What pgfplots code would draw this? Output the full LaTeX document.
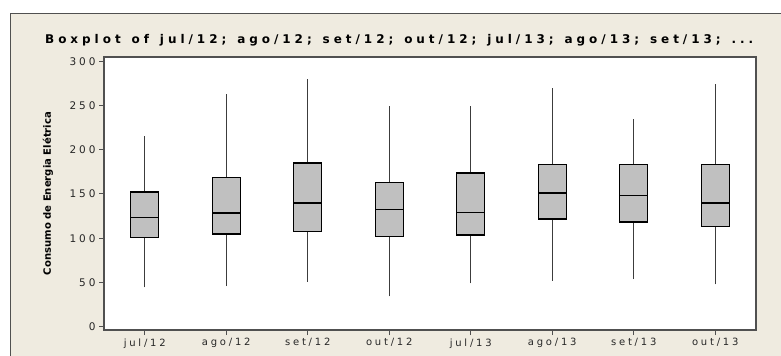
\documentclass[border=0pt]{standalone}
\usepackage{fontspec}
\setmainfont{DejaVu Sans}
\newfontfamily\tickfont[LetterSpace=28]{DejaVu Sans}
\usepackage{pgfplots}
\pgfplotsset{compat=1.18}
\definecolor{bgbeige}{RGB}{239,235,224}
\definecolor{boxgray}{RGB}{192,192,192}
\definecolor{framegray}{RGB}{80,80,80}
\definecolor{whiskgray}{RGB}{60,60,60}
\makeatletter
\newcommand\spreadword[1]{\@tfor\lschar:=#1\do{\lschar\hfill}}
\makeatother
\newcommand\wsp{\hspace{3bp}\hfill}
\begin{document}
\begin{tikzpicture}
\path[use as bounding box] (0bp,0bp) rectangle (781bp,356bp);
\fill[bgbeige] (10bp,-10bp) rectangle (800bp,343bp);
\draw[framegray, line width=1bp] (10.5bp,-10bp) -- (10.5bp,342.5bp) -- (800bp,342.5bp);
\node[font=\bfseries\fontsize{12bp}{14bp}\selectfont, anchor=base west, inner sep=0pt] at (45bp,312.7bp) {\makebox[708bp][l]{\spreadword{Boxplot}\wsp\spreadword{of}\wsp\spreadword{jul/12;}\wsp\spreadword{ago/12;}\wsp\spreadword{set/12;}\wsp\spreadword{out/12;}\wsp\spreadword{jul/13;}\wsp\spreadword{ago/13;}\wsp\spreadword{set/13;}\wsp\spreadword{...}\unskip}};
\begin{axis}[
  at={(104bp,26bp)}, anchor=south west,
  scale only axis, width=652bp, height=273bp,
  xmin=0.5, xmax=8.5, ymin=-3.7, ymax=304.8,
  axis background/.style={fill=white},
  axis line style={framegray, line width=1.3bp},
  tick style={framegray, line width=1bp},
  tick align=outside, major tick length=5bp,
  xtick={1,2,3,4,5,6,7,8},
  xticklabels={jul/12,ago/12,set/12,out/12,jul/13,ago/13,set/13,out/13},
  ytick={0,50,100,150,200,250,300},
  xtick pos=lower, ytick pos=left,
  /pgf/number format/assume math mode=true,
  tick label style={font=\tickfont\fontsize{10bp}{12bp}\selectfont, text=black!85},
  yticklabel style={font=\tickfont\fontsize{10.5bp}{12bp}\selectfont},
  ylabel={\resizebox{163bp}{!}{\bfseries Consumo de Energia Elétrica}},
  ylabel style={at={(axis description cs:-0.0859,0.5)}, anchor=center},
  whisk/.style={draw=whiskgray, line width=1.4bp, mark=none},
  bx/.style={draw=black, fill=boxgray, line width=1.3bp, mark=none},
  med/.style={draw=black, line width=1.3bp, mark=none},
]
% jul/12: 44.5, 101, 123.2, 152.3, 215.6
\addplot[whisk] coordinates {(1,44.5) (1,101)};
\addplot[whisk] coordinates {(1,152.3) (1,215.6)};
\addplot[bx] coordinates {(0.8285,101) (1.1715,101) (1.1715,152.3) (0.8285,152.3) (0.8285,101)} -- cycle;
\addplot[med] coordinates {(0.8285,123.2) (1.1715,123.2)};
% ago/12: 46, 104.8, 128.5, 168.9, 262.7
\addplot[whisk] coordinates {(2,46) (2,104.8)};
\addplot[whisk] coordinates {(2,168.9) (2,262.7)};
\addplot[bx] coordinates {(1.8285,104.8) (2.1715,104.8) (2.1715,168.9) (1.8285,168.9) (1.8285,104.8)} -- cycle;
\addplot[med] coordinates {(1.8285,128.5) (2.1715,128.5)};
% set/12: 50.9, 107.8, 139.8, 185, 280
\addplot[whisk] coordinates {(3,50.9) (3,107.8)};
\addplot[whisk] coordinates {(3,185) (3,280)};
\addplot[bx] coordinates {(2.8285,107.8) (3.1715,107.8) (3.1715,185) (2.8285,185) (2.8285,107.8)} -- cycle;
\addplot[med] coordinates {(2.8285,139.8) (3.1715,139.8)};
% out/12: 34.4, 102.2, 132.7, 163.2, 249.8
\addplot[whisk] coordinates {(4,34.4) (4,102.2)};
\addplot[whisk] coordinates {(4,163.2) (4,249.8)};
\addplot[bx] coordinates {(3.8285,102.2) (4.1715,102.2) (4.1715,163.2) (3.8285,163.2) (3.8285,102.2)} -- cycle;
\addplot[med] coordinates {(3.8285,132.7) (4.1715,132.7)};
% jul/13: 49, 103.7, 129.3, 173.7, 249.8
\addplot[whisk] coordinates {(5,49) (5,103.7)};
\addplot[whisk] coordinates {(5,173.7) (5,249.8)};
\addplot[bx] coordinates {(4.8285,103.7) (5.1715,103.7) (5.1715,173.7) (4.8285,173.7) (4.8285,103.7)} -- cycle;
\addplot[med] coordinates {(4.8285,129.3) (5.1715,129.3)};
% ago/13: 52, 121.7, 151.1, 183.1, 269.5
\addplot[whisk] coordinates {(6,52) (6,121.7)};
\addplot[whisk] coordinates {(6,183.1) (6,269.5)};
\addplot[bx] coordinates {(5.8285,121.7) (6.1715,121.7) (6.1715,183.1) (5.8285,183.1) (5.8285,121.7)} -- cycle;
\addplot[med] coordinates {(5.8285,151.1) (6.1715,151.1)};
% set/13: 53.9, 118.3, 148, 183.1, 234.6
\addplot[whisk] coordinates {(7,53.9) (7,118.3)};
\addplot[whisk] coordinates {(7,183.1) (7,234.6)};
\addplot[bx] coordinates {(6.8285,118.3) (7.1715,118.3) (7.1715,183.1) (6.8285,183.1) (6.8285,118.3)} -- cycle;
\addplot[med] coordinates {(6.8285,148) (7.1715,148)};
% out/13: 47.9, 113, 139.8, 183.1, 274
\addplot[whisk] coordinates {(8,47.9) (8,113)};
\addplot[whisk] coordinates {(8,183.1) (8,274)};
\addplot[bx] coordinates {(7.8285,113) (8.1715,113) (8.1715,183.1) (7.8285,183.1) (7.8285,113)} -- cycle;
\addplot[med] coordinates {(7.8285,139.8) (8.1715,139.8)};
\end{axis}
\end{tikzpicture}
\end{document}
